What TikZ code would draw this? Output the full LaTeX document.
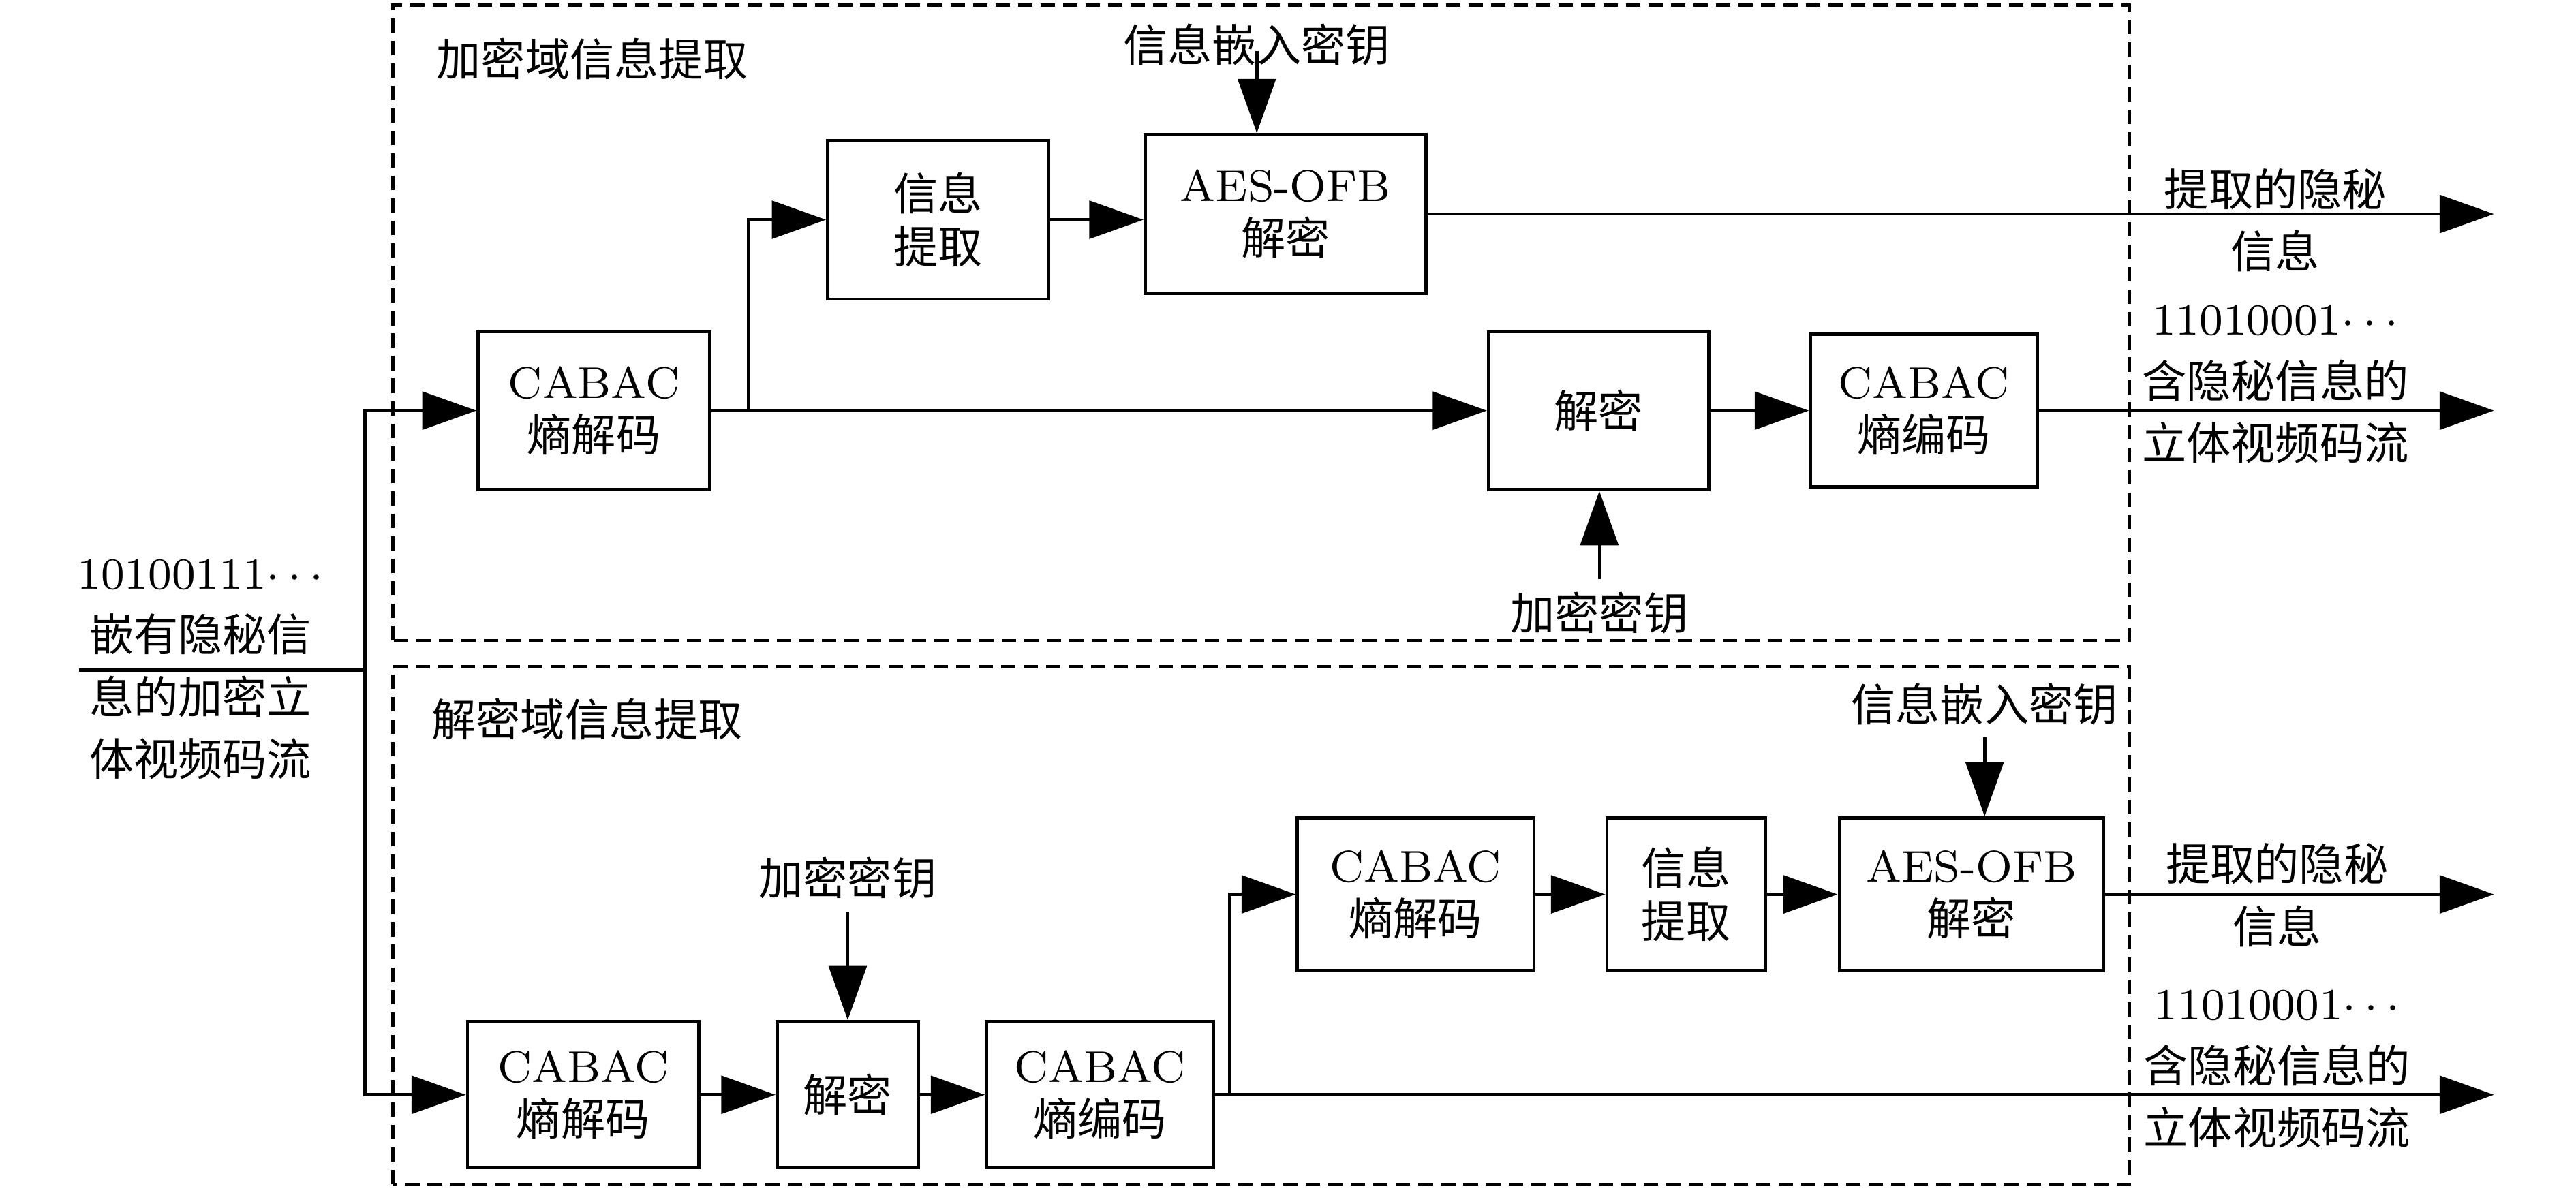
\documentclass[tikz,border=0pt]{standalone}
\usepackage{fontspec}
\newfontfamily\cjk{Noto Sans CJK SC}
\usetikzlibrary{arrows.meta,positioning,calc}

\begin{document}
\begin{tikzpicture}[
  blk/.style={draw, line width=0.55pt, align=center, inner sep=0pt, font=\fontsize{7.7}{9.2}\selectfont},
  sz/.style 2 args={minimum width=#1cm, minimum height=#2cm},
  lbl/.style={align=center, inner sep=2pt, font=\fontsize{7.7}{10.8}\selectfont},
  arr/.style={-{Triangle[length=3.3mm,width=2.3mm]}, line width=0.55pt},
  frm/.style={line width=0.55pt, dash pattern=on 2.5pt off 1.4pt}
]
  \useasboundingbox (0,0) rectangle (15.68,7.25);
  \draw[frm] (2.39,3.35) rectangle (12.96,7.22);
  \draw[frm] (2.39,0.04) rectangle (12.96,3.19);
  \node[lbl, anchor=west] (ttl1) at (2.58,6.89) {\cjk 加密域信息提取};
  \node[lbl, anchor=west] (ttl2) at (2.55,2.87) {\cjk 解密域信息提取};

  \node[lbl] (src) at (1.22,3.175) {10100111$\cdots$\\{\cjk 嵌有隐秘信}\\{\cjk 息的加密立}\\{\cjk 体视频码流}};
  \coordinate (in) at (0.48,3.17);
  \coordinate (fork) at (2.22,3.17);
  \coordinate (tipx) at (15.18,0);

  % encrypted domain
  \node[blk, sz={1.41}{0.96}] (tdec) at (3.615,4.75) {CABAC\\{\cjk 熵解码}};
  \node[blk, sz={1.345}{0.965}] (tinfo) at (5.71,5.912) {{\cjk 信息}\\{\cjk 提取}};
  \node[blk, sz={1.71}{0.966}] (taes) at (7.825,5.947) {AES-OFB\\{\cjk 解密}};
  \node[blk, sz={1.34}{0.96}] (tdcr) at (9.73,4.75) {\cjk 解密};
  \node[blk, sz={1.38}{0.93}] (tenc) at (11.71,4.75) {CABAC\\{\cjk 熵编码}};
  \node[lbl] (tkey1) at (7.65,6.98) {\cjk 信息嵌入密钥};
  \node[lbl] (tkey2) at (9.735,3.52) {\cjk 加密密钥};
  \node[lbl] (tout1) at (13.85,5.91) {{\cjk 提取的隐秘}\\{\cjk 信息}};
  \node[lbl] (tout2) at (13.85,4.91) {11010001$\cdots$\\{\cjk 含隐秘信息的}\\{\cjk 立体视频码流}};
  \coordinate (tbr) at (4.555,4.75);

  % decrypted domain
  \node[blk, sz={1.41}{0.89}] (bdec) at (3.55,0.585) {CABAC\\{\cjk 熵解码}};
  \node[blk, sz={0.86}{0.89}] (bdcr) at (5.16,0.585) {\cjk 解密};
  \node[blk, sz={1.38}{0.89}] (benc) at (6.695,0.585) {CABAC\\{\cjk 熵编码}};
  \node[blk, sz={1.44}{0.93}] (bdec2) at (8.617,1.805) {CABAC\\{\cjk 熵解码}};
  \node[blk, sz={0.965}{0.93}] (binfo) at (10.263,1.805) {{\cjk 信息}\\{\cjk 提取}};
  \node[blk, sz={1.61}{0.93}] (baes) at (12.0,1.805) {AES-OFB\\{\cjk 解密}};
  \node[lbl] (bkey1) at (12.08,2.964) {\cjk 信息嵌入密钥};
  \node[lbl] (bkey2) at (5.16,1.903) {\cjk 加密密钥};
  \node[lbl] (bout1) at (13.86,1.80) {{\cjk 提取的隐秘}\\{\cjk 信息}};
  \node[lbl] (bout2) at (13.86,0.74) {11010001$\cdots$\\{\cjk 含隐秘信息的}\\{\cjk 立体视频码流}};
  \coordinate (bbr) at (7.483,0.585);

  \draw[line width=0.55pt] (in) -- (fork);
  \draw[arr] (fork) |- (tdec);
  \draw[arr] (fork) |- (bdec);

  \draw[arr] (tdec) -- (tdcr);
  \draw[arr] (tbr) |- (tinfo);
  \draw[arr] (tinfo.east) -- (tinfo.east -| taes.west);
  \draw[arr] ([yshift=-0.04cm]tkey1.center) -- (tkey1.center |- taes.north);
  \draw[arr] (taes) -- (taes -| tipx);
  \draw[arr] (tkey2.north) -- (tkey2.north |- tdcr.south);
  \draw[arr] (tdcr) -- (tenc);
  \draw[arr] (tenc) -- (tenc -| tipx);

  \draw[arr] (bdec) -- (bdcr);
  \draw[arr] (bkey2) -- (bdcr);
  \draw[arr] (bdcr) -- (benc);
  \draw[arr] (benc) -- (benc -| tipx);
  \draw[arr] (bbr) |- (bdec2);
  \draw[arr] (bdec2) -- (binfo);
  \draw[arr] (binfo) -- (baes);
  \draw[arr] (bkey1.south) -- (bkey1.south |- baes.north);
  \draw[arr] (baes) -- (baes -| tipx);
\end{tikzpicture}
\end{document}
